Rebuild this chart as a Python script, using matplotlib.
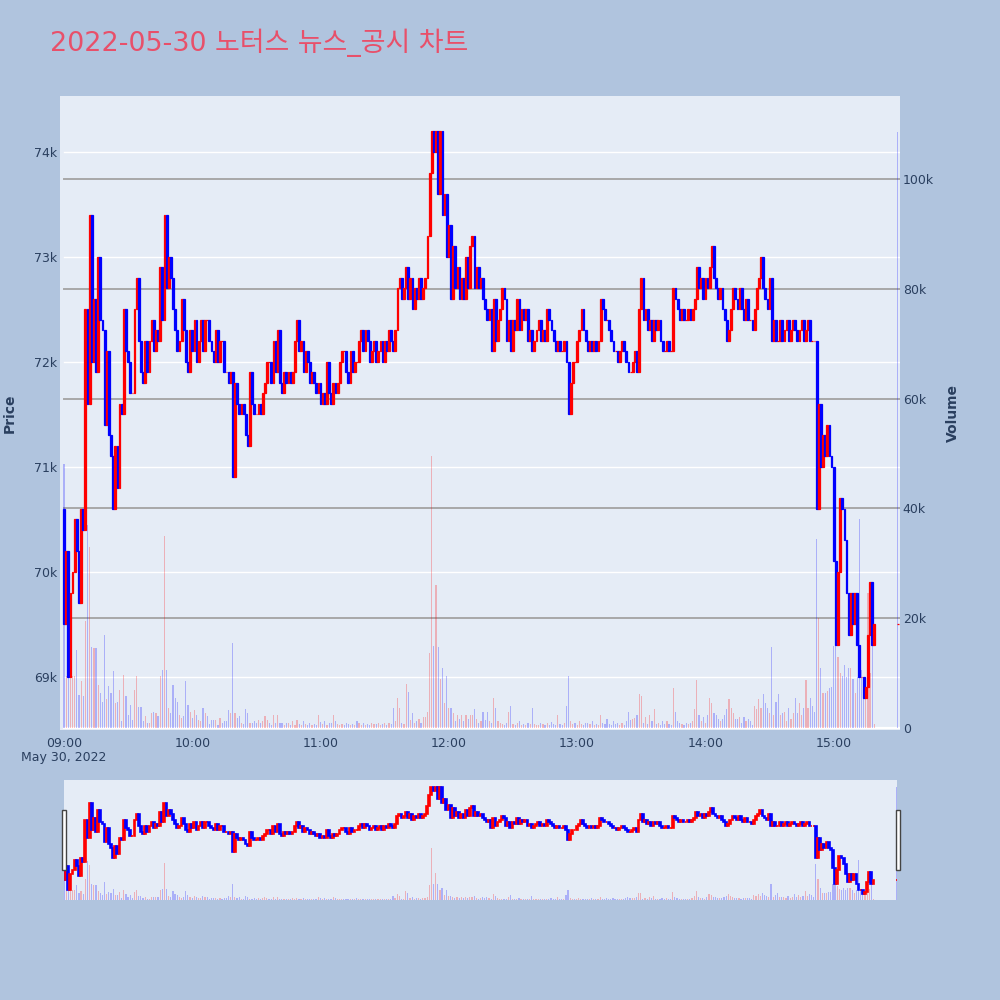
import matplotlib
matplotlib.use('Agg')
import matplotlib.pyplot as plt
import matplotlib.transforms as mtrans
from matplotlib.patches import Rectangle
import numpy as np
import pandas as pd

RED = '#FF0000'
BLUE = '#0000FF'
PAPER = '#B0C4DE'
PLOT_BG = '#E5ECF6'
FONT_COLOR = '#2a3f5f'
TITLE_COLOR = '#E8506A'

title = '2022-05-30 노터스 뉴스_공시 차트'

# one candle per minute 09:00-15:19, then the 15:30 closing auction
times = list(pd.date_range('2022-05-30 09:00', periods=380, freq='min')) + [pd.Timestamp('2022-05-30 15:30')]

first_open = 70600
closes = [
    69500, 70200, 69000, 69800, 70000, 70500, 70200, 69700, 70600, 70400,
    72500, 71600, 73400, 72000, 72600, 71900, 73000, 72400, 72300, 71400,
    72100, 71300, 71100, 70600, 71200, 70800, 71600, 71500, 72500, 72100,
    72000, 71700, 71700, 72500, 72800, 72200, 71900, 71800, 72200, 71900,
    72200, 72400, 72100, 72300, 72200, 72900, 72400, 73400, 72700, 73000,
    72800, 72500, 72300, 72100, 72200, 72600, 72300, 72000, 71900, 72300,
    72100, 72400, 72000, 72200, 72400, 72100, 72400, 72400, 72200, 72100,
    72000, 72300, 72000, 72200, 72200, 71900, 71900, 71800, 71900, 70900,
    71800, 71600, 71500, 71600, 71500, 71300, 71200, 71900, 71600, 71500,
    71500, 71600, 71500, 71700, 71800, 72000, 72000, 71800,
    72200, 71900, 72300, 71800, 71700, 71900, 71800, 71900, 71800, 71900,
    72200, 72400, 72100, 72200, 71900, 72100, 72000, 71800, 71900, 71800,
    71700, 71800, 71600, 71700, 71600, 72000, 71700, 71600, 71800, 71700,
    71800, 72000, 72100, 72100, 71900, 71800, 72100, 71900, 72000, 72000,
    72200, 72300, 72100, 72300, 72200, 72000, 72100, 72200, 72000, 72100,
    72200, 72000, 72200, 72100, 72300, 72200, 72100, 72300, 72700, 72800,
    72600, 72700, 72900, 72600, 72800, 72500, 72700, 72600, 72800, 72600,
    72700, 72800, 73200, 73800, 74200, 74000, 74200, 73600, 74200, 73400,
    73600, 73000, 73300, 72600, 73100, 72700, 72900, 72600, 72800, 72600,
    73000, 72700, 73100, 73200, 72700, 72900, 72700, 72800, 72600, 72500,
    72400, 72500, 72100, 72600, 72200, 72400, 72500, 72700, 72600, 72200,
    72400, 72100, 72400, 72300, 72600, 72300, 72500, 72400, 72500, 72200,
    72300, 72100, 72200, 72300, 72400, 72200, 72300, 72200, 72500, 72400,
    72300, 72200, 72100, 72200, 72100, 72100, 72200, 72000, 71500, 71800,
    72000, 72000, 72200, 72300, 72500, 72300, 72200, 72100, 72200, 72100,
    72200, 72100, 72200, 72600, 72500, 72400, 72400, 72300, 72200, 72100,
    72100, 72000, 72100, 72200, 72100, 72000, 71900, 71900, 72000, 72100,
    71900, 72500, 72800, 72400, 72500, 72300, 72400, 72200, 72400, 72300,
    72400, 72200, 72100, 72100, 72200, 72100, 72100, 72700, 72600, 72500,
    72400, 72500, 72400, 72400, 72500,
    72400, 72500, 72600, 72900, 72700, 72800, 72600, 72800, 72700, 72900,
    73100, 72800, 72700, 72600, 72700, 72500, 72400, 72200, 72300, 72500,
    72700, 72600, 72500, 72700, 72500, 72400, 72600, 72400, 72400, 72300,
    72500, 72700, 72800, 73000, 72700, 72600, 72500, 72800, 72200, 72400,
    72200, 72200, 72400, 72200, 72300, 72400, 72200, 72300, 72400, 72300,
    72200, 72300, 72400, 72200, 72300, 72400, 72200, 72200, 72200, 70600,
    71600, 71000, 71300, 71100, 71400, 71100, 71000, 70100, 69300, 70000,
    70700, 70600, 70300, 69800, 69400, 69800, 69500, 69800, 69300, 69000,
    69000, 68800, 68900, 69400, 69900, 69300, 69500,
    69500,
]

# volume in thousand shares
volumes = [
    48, 9.4, 9.4, 9.4, 9.4, 9.4, 14.2, 6.0, 8.5, 5.8,
    19.4, 37, 33, 14.8, 14.5, 14.5, 7.9, 6.4, 4.8, 17,
    5.2, 7.6, 6.4, 10.3, 4.5, 4.8, 7.0, 1.2, 9.7, 5.8,
    2.4, 4.2, 1.5, 7.0, 9.4, 3.9, 3.9, 1.2, 2.1, 0.9,
    1.0, 2.7, 3.0, 2.7, 2.1, 9.4, 10.6, 35,
    10.6, 3.6, 2.7, 7.9, 5.5, 4.8, 2.4, 1.8, 2.1, 8.5,
    4.2, 3.0, 1.8, 3.3, 2.4, 1.5, 1.2, 3.6, 2.7, 2.1,
    0.7, 1.5, 1.4, 1.4, 0.6, 1.8, 1.0, 1.2, 1.3, 3.3,
    2.7, 15.5, 2.7, 1.8, 2.1, 0.9, 0.7, 3.5, 2.7, 1.0,
    0.9, 1.2, 0.9, 1.5, 0.9, 1.2, 2.1, 1.5, 0.9, 0.6,
    2.4, 0.9,
    2.4, 1.0, 0.9, 0.6, 1.0, 0.9, 0.5, 1.2, 0.6, 1.4,
    0.7, 0.5, 1.2, 0.8, 0.5, 1.0, 0.6, 0.7, 0.5, 2.4,
    1.1, 0.8, 1.2, 0.6, 0.9, 1.0, 2.3, 1.2, 0.7, 0.5,
    0.8, 0.6, 1.0, 0.7, 0.6, 0.8, 0.5, 1.3, 0.9, 0.6,
    0.9, 0.5, 0.7, 0.6, 0.9, 0.8, 0.7, 1.0, 0.6, 0.8,
    1.0, 0.6, 0.9, 0.8,
    3.7, 1.2, 5.5, 3.7, 1.0, 0.8, 8.0, 6.6, 1.5, 2.7,
    1.0, 1.3, 1.6, 0.9, 2.0, 2.0, 3.0, 13.6, 49.5, 15,
    26, 14.7, 9, 11, 4.5, 9.4, 3.7, 3.7, 2.7, 1.3,
    2.3, 1.6, 2.3, 1.3, 2.3, 1.6, 2.3, 2.3, 3.4, 1.6,
    0.9, 1.3, 3.0,
    1.5, 3.0, 1.2, 1.0, 5.5, 3.7, 1.2, 0.9, 0.8, 0.6,
    1.0, 3.0, 4.1, 0.7, 0.5, 0.9, 1.2, 0.6, 0.8, 0.5,
    0.9, 0.7, 3.7, 0.8, 0.6, 0.5, 1.0, 0.7, 0.6, 0.9,
    0.6, 1.1, 0.7, 0.5, 2.3, 0.8, 0.6, 0.9, 4.1, 9.4,
    1.2, 0.7, 0.9, 0.6, 1.2, 0.8, 0.6, 0.9, 1.0, 0.7,
    1.2, 0.5, 0.8, 0.6, 2.3, 1.0, 0.7, 1.6, 0.8, 0.6,
    1.2, 0.7, 0.9, 0.6, 1.0, 0.5, 1.2, 3.0, 1.5, 1.6,
    1.9, 2.3, 6.2, 5.9, 1.0, 2.0, 0.8, 2.3, 1.2, 3.4,
    0.7, 1.0, 0.6, 1.2, 0.8, 1.2, 0.7, 0.6, 7.3, 3.0,
    1.2, 0.9, 0.8, 0.6, 0.9, 0.7, 0.9, 1.2, 3.4,
    8.7, 2.3, 1.2, 2.0, 1.0, 2.3, 5.5, 4.5, 2.7, 2.3,
    1.6, 1.2, 1.6, 2.3, 3.4, 5.2, 3.7, 2.7, 1.6, 1.6,
    2.0, 0.9, 2.0, 1.2, 1.6, 1.2, 0.6, 4.1, 3.4, 5.2,
    3.7, 6.2, 4.5, 3.7, 2.7, 14.7, 2.3, 4.8, 6.2, 2.3,
    2.7, 3.0, 1.2, 3.7, 1.6, 2.7, 5.5, 2.7, 4.5, 2.3,
    3.7, 8.7, 3.7, 5.5, 4.1, 3.0,
    34.4, 20, 11, 6.4, 6.4, 6.8, 7.2, 7.4, 15, 15,
    13, 10, 9.5, 11.5, 9.3, 11, 11, 9, 6.4, 9.3,
    38, 10.5, 6.9, 8.7, 24.5, 10, 26, 0.8,
    108.5,
]

price_ticks = [69000, 70000, 71000, 72000, 73000, 74000]
price_labels = ['69k', '70k', '71k', '72k', '73k', '74k']
vol_ticks = [0, 20, 40, 60, 80, 100]
vol_labels = ['0', '20k', '40k', '60k', '80k', '100k']
hour_ticks = ['09:00', '10:00', '11:00', '12:00', '13:00', '14:00', '15:00']

mins = np.array([(t - times[0]).total_seconds() / 60 for t in times])
closes = np.array(closes, dtype=float)
opens = np.r_[first_open, closes[:-1]]
volumes = np.array(volumes, dtype=float)
candle_col = np.where(closes >= opens, RED, BLUE)
vol_col = [(1, 0, 0, 0.25) if c > o else (0, 0, 1, 0.25) for o, c in zip(opens, closes)]
hour_pos = [(pd.Timestamp('2022-05-30 ' + h) - times[0]).total_seconds() / 60 for h in hour_ticks]

P_LIM = (68495, 74533)
V_LIM = (-0.36, 115.1)

fig = plt.figure(figsize=(10, 10), dpi=100, facecolor=PAPER)


def draw_traces(ax_v, ax_p, body_w, edge_lw, vol_w):
    ax_v.bar(mins, volumes, width=vol_w, color=vol_col, linewidth=0, zorder=2)
    ax_p.bar(mins, np.abs(closes - opens), bottom=np.minimum(opens, closes), width=body_w,
             color=candle_col, edgecolor=candle_col, linewidth=edge_lw, zorder=3)


rect = [0.060, 0.270, 0.840, 0.634]
ax_v = fig.add_axes(rect)
ax_p = fig.add_axes(rect)
ax_p.patch.set_visible(False)
ax_v.set_facecolor(PLOT_BG)
for a in (ax_v, ax_p):
    a.set_xlim(-1.87, 391.0)
    for s in a.spines.values():
        s.set_visible(False)
ax_p.set_ylim(*P_LIM)
ax_v.set_ylim(*V_LIM)

# grid lines, all under the traces
x0 = 4 / 840
grid_tr = mtrans.blended_transform_factory(ax_v.transAxes, ax_p.transData)
for p in price_ticks:
    ax_v.plot([x0, 1], [p, p], color='white', lw=1.0, transform=grid_tr, zorder=1)
vgrid_tr = mtrans.blended_transform_factory(ax_v.transAxes, ax_v.transData)
for v in vol_ticks[1:]:
    ax_v.plot([x0, 1], [v, v], color='#A8A8A8', lw=1.4, transform=vgrid_tr, zorder=1)
ax_v.plot([x0, 1], [0, 0], color='white', lw=1.6, transform=vgrid_tr, zorder=1)

draw_traces(ax_v, ax_p, 0.85, 0.9, 0.55)

ax_p.set_yticks(price_ticks)
ax_p.set_yticklabels(price_labels)
ax_p.tick_params(axis='y', length=0, pad=2, labelsize=9, labelcolor=FONT_COLOR)
ax_p.set_xticks(hour_pos)
ax_p.set_xticklabels(hour_ticks)
ax_p.tick_params(axis='x', length=0, pad=5, labelsize=9, labelcolor=FONT_COLOR)

ax_v.yaxis.tick_right()
ax_v.set_yticks(vol_ticks)
ax_v.set_yticklabels(vol_labels)
ax_v.tick_params(axis='y', length=0, pad=2, labelsize=9, labelcolor=FONT_COLOR)
ax_v.set_xticks([])

fig.text(0.064, 1 - 0.758, 'May 30, 2022', ha='center', va='center', fontsize=9, color=FONT_COLOR)
fig.text(0.010, 1 - 0.413, 'Price', rotation=90, ha='center', va='center',
         fontsize=10, fontweight='bold', color=FONT_COLOR)
fig.text(0.953, 1 - 0.413, 'Volume', rotation=90, ha='center', va='center',
         fontsize=10, fontweight='bold', color=FONT_COLOR)
fig.text(0.050, 1 - 0.051, title, ha='left', va='baseline', fontsize=19.4, color=TITLE_COLOR,
         family=['DejaVu Sans', 'Noto Sans CJK KR'])

# range slider
srect = [0.064, 0.100, 0.833, 0.120]
sv = fig.add_axes(srect)
sp = fig.add_axes(srect)
sp.patch.set_visible(False)
sv.set_facecolor(PLOT_BG)
for a in (sv, sp):
    a.set_xlim(0, 390)
    a.set_xticks([])
    a.set_yticks([])
    for s in a.spines.values():
        s.set_visible(False)
sp.set_ylim(*P_LIM)
sv.set_ylim(*V_LIM)
draw_traces(sv, sp, 0.85, 1.2, 0.55)

for hx in (0.0615, 0.8955):
    fig.patches.append(Rectangle((hx, 1 - 0.870), 0.004, 0.060, transform=fig.transFigure,
                                 facecolor='white', edgecolor='#444444', lw=1.0, zorder=10))

fig.savefig('out.png', dpi=100, facecolor=PAPER)
